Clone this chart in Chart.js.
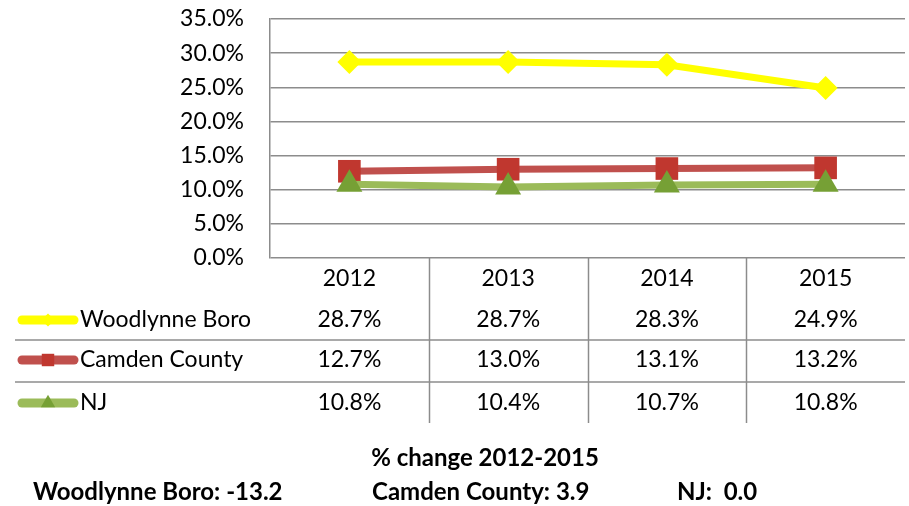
<!DOCTYPE html>
<html>
<head>
<meta charset="utf-8">
<script src="https://cdn.jsdelivr.net/npm/chart.js@4/dist/chart.umd.min.js"></script>
<style>
  html, body { margin: 0; padding: 0; background: #fff; }
  canvas { display: block; }
</style>
</head>
<body>
<canvas id="chart" width="909" height="506"></canvas>
<script>
// data
const years = ["2012", "2013", "2014", "2015"];
const seriesNames = ["Woodlynne Boro", "Camden County", "NJ"];
const woodlynne = [28.7, 28.7, 28.3, 24.9];
const camden = [12.7, 13.0, 13.1, 13.2];
const nj = [10.8, 10.4, 10.7, 10.8];
const changeTitle = "% change 2012-2015";
const pctChange = [-13.2, 3.9, 0.0];

const lineColors = ["#FFFF00", "#C0504D", "#9BBB59"];
const markerColors = ["#FFFF00", "#C0372F", "#76A035"];
const markerStyles = ["rectRot", "rect", "triangle"];
const markerSizes = [12, 16, 15];
const gridColor = "#8C8C8C";
const FONT = "Lato, 'Open Sans', sans-serif";

const pct = v => v.toFixed(1) + "%";

// data table + legend keys + footer, placed off the x scale
const tablePlugin = {
    id: "dataTable",
    afterDraw(chart) {
        const ctx = chart.ctx;
        const x = chart.scales.x;
        const area = chart.chartArea;
        const base = area.bottom;
        const yearY = base + 21;
        const rowY = [base + 62, base + 102, base + 145];
        const allSeries = [woodlynne, camden, nj];

        ctx.save();
        ctx.strokeStyle = gridColor;
        ctx.lineWidth = 1.5;
        // column dividers
        for (let i = 0; i < years.length - 1; i++) {
            const xx = Math.round((x.getPixelForValue(i) + x.getPixelForValue(i + 1)) / 2) + 0.5;
            ctx.beginPath();
            ctx.moveTo(xx, base);
            ctx.lineTo(xx, base + 165);
            ctx.stroke();
        }
        // row dividers
        [base + 82, base + 124].forEach(yy => {
            ctx.beginPath();
            ctx.moveTo(15, yy);
            ctx.lineTo(area.right, yy);
            ctx.stroke();
        });

        ctx.fillStyle = "#000";
        ctx.font = "23px " + FONT;
        ctx.textAlign = "center";
        ctx.textBaseline = "middle";
        years.forEach((yr, i) => ctx.fillText(yr, x.getPixelForValue(i), yearY));
        allSeries.forEach((vals, s) => {
            vals.forEach((v, i) => ctx.fillText(pct(v), x.getPixelForValue(i), rowY[s]));
        });

        // legend keys
        seriesNames.forEach((name, s) => {
            const y = rowY[s];
            ctx.strokeStyle = lineColors[s];
            ctx.lineWidth = 9;
            ctx.lineCap = "round";
            ctx.beginPath();
            ctx.moveTo(22, y);
            ctx.lineTo(74, y);
            ctx.stroke();
            ctx.fillStyle = markerColors[s];
            Chart.helpers.drawPoint(ctx, {
                pointStyle: markerStyles[s],
                radius: markerSizes[s] * 0.55,
                rotation: 0,
                borderWidth: 0
            }, 48, y);
            ctx.fillStyle = "#000";
            ctx.textAlign = "left";
            ctx.fillText(name, 80, y);
        });

        // footer
        ctx.font = "bold 24px " + FONT;
        ctx.textAlign = "center";
        ctx.fillText(changeTitle, 485, 458);
        ctx.textAlign = "left";
        ctx.fillText(seriesNames[0] + ": " + pctChange[0].toFixed(1), 33, 492);
        ctx.fillText(seriesNames[1] + ": " + pctChange[1].toFixed(1), 372, 492);
        ctx.fillText(seriesNames[2] + ":  " + pctChange[2].toFixed(1), 677, 492);
        ctx.restore();
    }
};

const datasets = [woodlynne, camden, nj].map((vals, s) => ({
    label: seriesNames[s],
    data: vals,
    borderColor: lineColors[s],
    borderWidth: 7,
    pointStyle: markerStyles[s],
    pointRadius: markerSizes[s],
    pointHoverRadius: markerSizes[s],
    pointBackgroundColor: markerColors[s],
    pointBorderWidth: 0,
    tension: 0,
    clip: false,
    order: 2 - s
}));

new Chart(document.getElementById("chart"), {
    type: "line",
    data: { labels: years, datasets: datasets },
    options: {
        responsive: false,
        animation: false,
        events: [],
        layout: { autoPadding: false, padding: { left: 0, top: 19, right: 4, bottom: 248 } },
        plugins: { legend: { display: false }, tooltip: { enabled: false } },
        scales: {
            x: {
                display: false,
                offset: true
            },
            y: {
                min: 0,
                max: 35,
                afterFit(scale) {
                    scale.width = 270;
                    scale.paddingTop = 0;
                    scale.paddingBottom = 0;
                },
                ticks: {
                    stepSize: 5,
                    padding: 26,
                    color: "#000",
                    font: { family: FONT, size: 23 },
                    callback: v => pct(v)
                },
                grid: { color: gridColor, lineWidth: 1.5, drawTicks: false },
                border: { display: true, color: gridColor, width: 1.5 }
            }
        }
    },
    plugins: [tablePlugin]
});
</script>
</body>
</html>
